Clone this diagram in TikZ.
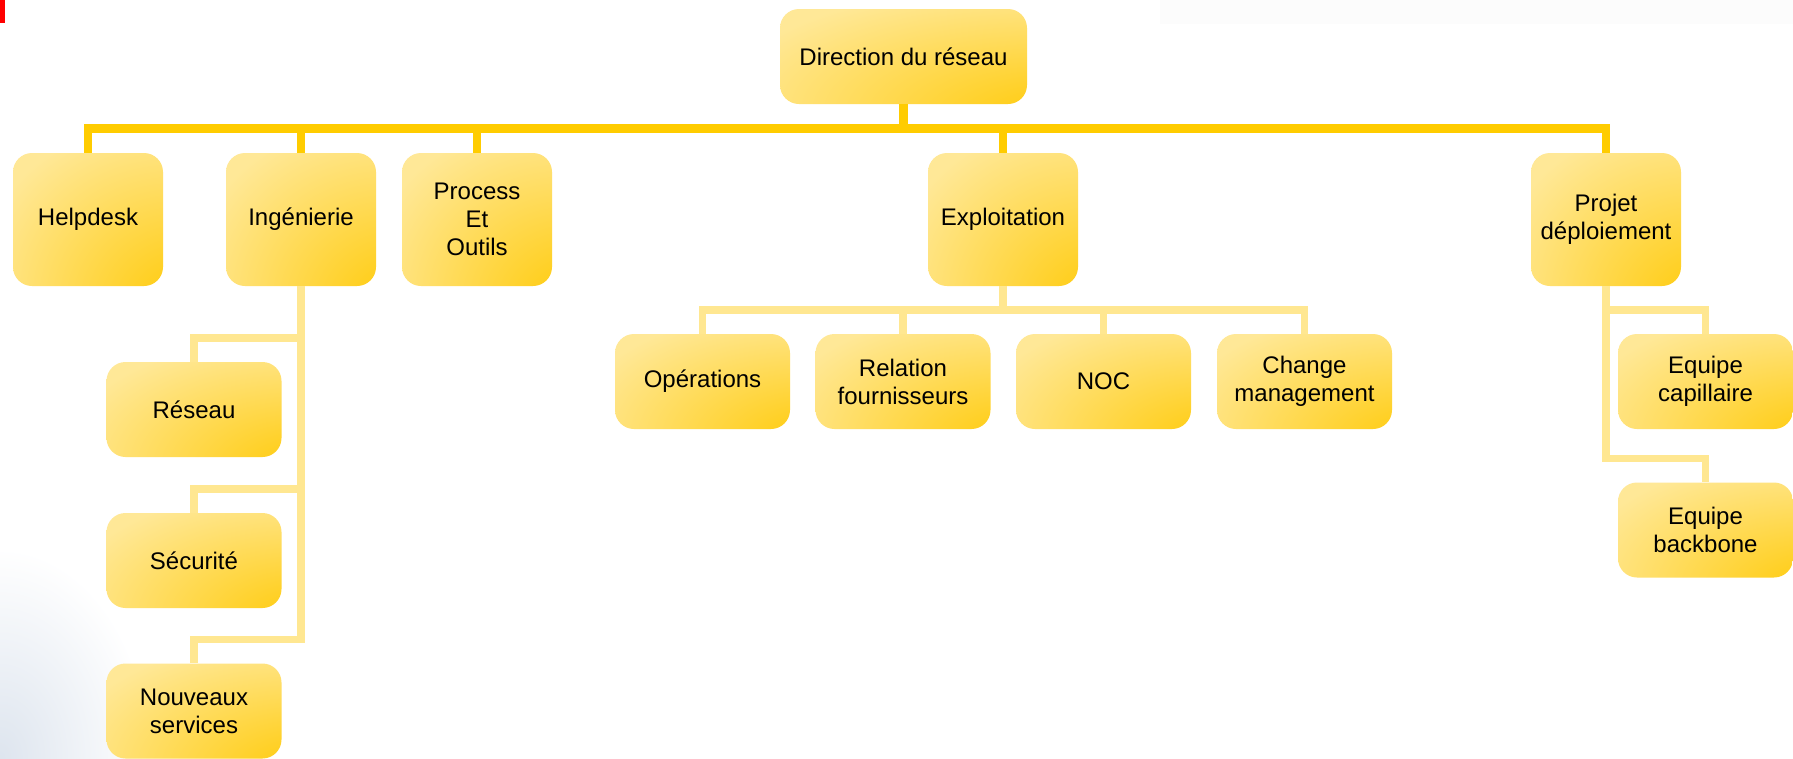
\documentclass[tikz,border=0pt]{standalone}
\usepackage{fontspec}
\setmainfont{Liberation Sans}
\usetikzlibrary{calc}
\definecolor{boxlight}{HTML}{FFE897}
\definecolor{boxdark}{HTML}{FFCC11}
\definecolor{trunkgold}{HTML}{FFCC00}
\definecolor{twiggold}{HTML}{FFE791}
\definecolor{mist}{HTML}{D5DEEA}
\definecolor{brandred}{HTML}{FF0000}
\pgfdeclareradialshading{boxglow}{\pgfpoint{40bp}{-40bp}}{color(0bp)=(boxdark); color(12bp)=(boxdark); color(62bp)=(boxlight); color(160bp)=(boxlight)}

\begin{document}
\begin{tikzpicture}[x=1pt, y=-1pt, line join=miter,
	unit/.style={shade, shading=boxglow, rounded corners=19pt, align=center, inner sep=2pt, font=\fontsize{24}{28}\selectfont},
	headbox/.style={unit, minimum width=247pt, minimum height=95pt},
	deptbox/.style={unit, minimum width=150pt, minimum height=133pt},
	teambox/.style={unit, minimum width=175pt, minimum height=95pt},
	trunk/.style={draw=trunkgold, line width=8.5pt},
	twig/.style={draw=twiggold, line width=7.5pt}]
		\useasboundingbox (0,0) rectangle (1793,758);
		\fill[white] (0,0) rectangle (1793,758);
		\fill[black!1] (1160,0) rectangle (1793,24);
		\shade[inner color=mist!80, outer color=white] (0,758) ellipse (150 and 210);
		\fill[brandred] (0,0) rectangle (5,23);

		\node[headbox]	(DIR)	at (903.5,56.5)		{Direction du réseau};
		\node[deptbox]	(HELP)	at (88,219.5)		{Helpdesk};
		\node[deptbox]	(ING)	at (301,219.5)		{Ingénierie};
		\node[deptbox]	(PROC)	at (477,219.5)		{Process\\Et\\Outils};
		\node[deptbox]	(EXPL)	at (1003,219.5)		{Exploitation};
		\node[deptbox]	(PROJ)	at (1606,219.5)		{Projet\\déploiement};
		\node[teambox]	(RES)	at (194,409.5)		{Réseau};
		\node[teambox]	(SEC)	at (194,560.5)		{Sécurité};
		\node[teambox]	(NOUV)	at (194,711)		{Nouveaux\\services};
		\node[teambox]	(OPS)	at (702.5,381.5)	{Opérations};
		\node[teambox]	(FOUR)	at (903,381.5)		{Relation\\fournisseurs};
		\node[teambox]	(NOC)	at (1103.5,381.5)	{NOC};
		\node[teambox]	(CHG)	at (1304.5,381.5)	{Change\\management};
		\node[teambox]	(CAP)	at (1705.5,381.5)	{Equipe\\capillaire};
		\node[teambox]	(BACK)	at (1705.5,530)		{Equipe\\backbone};
		\coordinate (BUS) at (0,128.5);

		\draw[trunk] (HELP.north) -- (HELP.north |- BUS) -- (PROJ.north |- BUS) -- (PROJ.north);
		\draw[trunk] (DIR.south) -- (DIR.south |- BUS);
		\foreach \n in {ING, PROC, EXPL}
			\draw[trunk] (\n.north) -- (\n.north |- BUS);

		\draw[twig] (ING.south) |- ($(NOUV.north)+(0,-24)$) -- (NOUV.north);
		\foreach \n in {RES, SEC}
			\draw[twig] (\n.north) -- ++(0,-24) -| (ING.south);
		\draw[twig] (OPS.north) -- ++(0,-24) -| (CHG.north);
		\draw[twig] (EXPL.south) -- ++(0,24);
		\foreach \n in {FOUR, NOC}
			\draw[twig] (\n.north) -- ++(0,-24);
		\draw[twig] (PROJ.south) |- ($(BACK.north)+(0,-24)$) -- (BACK.north);
		\draw[twig] (CAP.north) -- ++(0,-24) -| (PROJ.south);
\end{tikzpicture}
\end{document}
